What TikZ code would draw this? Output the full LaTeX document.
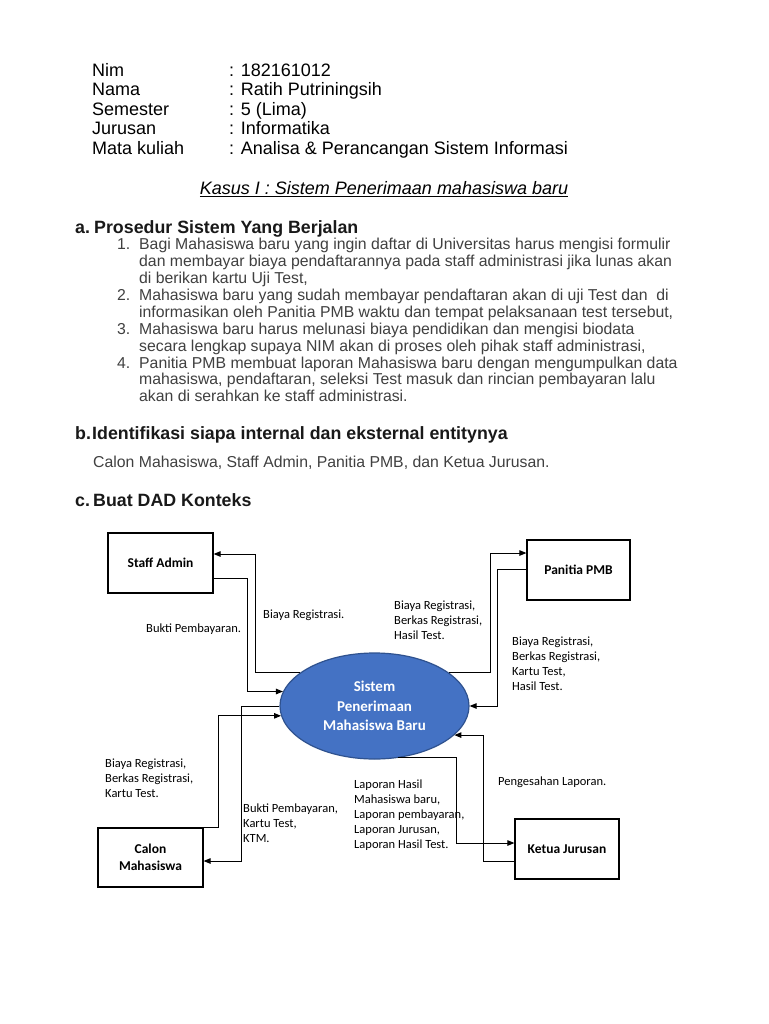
\documentclass[tikz,border=0pt]{standalone}
\usepackage{fontspec}
\setmainfont{Liberation Sans}
\newfontfamily\carlito{Carlito}
\usetikzlibrary{arrows.meta, shapes.geometric}
\definecolor{dadblue}{HTML}{4472C4}
\definecolor{dadedge}{HTML}{2F528F}
\definecolor{teks}{HTML}{404040}
\tikzset{
  entitas/.style={rectangle, draw=black, line width=1.2pt, fill=white, align=center,
                  font=\carlito\bfseries\fontsize{13.5}{17}\selectfont, inner sep=2pt},
  proses/.style={ellipse, draw=dadedge, line width=1.2pt, fill=dadblue, text=white,
                 align=center, minimum width=189pt, minimum height=106pt,
                 font=\carlito\bfseries\fontsize{15}{19.5}\selectfont},
  alur/.style={-{Triangle[length=7pt,width=5.5pt]}, line width=1pt},
  ket/.style={anchor=west, align=left, inner sep=0pt,
              font=\carlito\fontsize{12.5}{15}\selectfont},
  biodata/.style={anchor=base west, inner sep=0pt, font=\fontsize{18}{19.5}\selectfont},
  judul/.style={anchor=base west, inner sep=0pt, text=black!90,
                font=\bfseries\fontsize{17.8}{20}\selectfont},
  baris/.style={anchor=base west, inner sep=0pt, text=teks,
                font=\fontsize{15.8}{17}\selectfont}
}
\begin{document}
\begin{tikzpicture}[x=1pt, y=-1pt]
  \fill[white] (0,0) rectangle (768,1024);
  \useasboundingbox (0,0) rectangle (768,1024);

  % identitas
  \foreach \k/\v [count=\i from 0] in {Nim/182161012, Nama/Ratih Putriningsih,
      Semester/5 (Lima), Jurusan/Informatika,
      Mata kuliah/Analisa \& Perancangan Sistem Informasi} {
    \node[biodata] (k\i) at (92,76.4+\i*19.5) {\k};
    \node[biodata] (v\i) at (229,76.4+\i*19.5) {: \v};
  }
  \node[biodata, anchor=base] (kasus) at (384,194.4)
    {\itshape\underline{Kasus I : Sistem Penerimaan mahasiswa baru}};

  % a. prosedur
  \node[judul] (ha) at (75,233.5) {a.};
  \node[judul] (ta) at (94,233.5) {Prosedur Sistem Yang Berjalan};
  \foreach \n/\y in {1/249.7, 2/300.4, 3/334.2, 4/368}
    \node[baris] (n\n) at (117,\y) {\n.};
  \foreach \t [count=\i from 0] in {
      Bagi Mahasiswa baru yang ingin daftar di Universitas harus mengisi formulir,
      dan membayar biaya pendaftarannya pada staff administrasi jika lunas akan,
      di berikan kartu Uji Test{,},
      Mahasiswa baru yang sudah membayar pendaftaran akan di uji Test dan\ \ di,
      informasikan oleh Panitia PMB waktu dan tempat pelaksanaan test tersebut{,},
      Mahasiswa baru harus melunasi biaya pendidikan dan mengisi biodata,
      secara lengkap supaya NIM akan di proses oleh pihak staff administrasi{,},
      Panitia PMB membuat laporan Mahasiswa baru dengan mengumpulkan data,
      mahasiswa{,} pendaftaran{,} seleksi Test masuk dan rincian pembayaran lalu,
      akan di serahkan ke staff administrasi.}
    \node[baris] (l\i) at (139,249.7+\i*16.9) {\t};

  % b. entitas
  \node[judul] (hb) at (75,439.5) {b.};
  \node[judul] (tb) at (92,439.5) {Identifikasi siapa internal dan eksternal entitynya};
  \node[baris] (ent) at (93,467.7)
    {Calon Mahasiswa, Staff Admin, Panitia PMB, dan Ketua Jurusan.};

  % c. DAD konteks
  \node[judul] (hc) at (75,506.5) {c.};
  \node[judul] (tc) at (93,506.5) {Buat DAD Konteks};

  \node[entitas, minimum width=105pt, minimum height=60pt] (staff) at (160.5,563) {Staff Admin};
  \node[entitas, minimum width=103pt, minimum height=60pt] (panitia) at (578.5,570) {Panitia PMB};
  \node[entitas, minimum width=105pt, minimum height=59pt] (calon) at (150.5,857.5) {Calon\\Mahasiswa};
  \node[entitas, minimum width=104pt, minimum height=60pt] (ketua) at (567,849) {Ketua Jurusan};
  \node[proses] (sistem) at (374.5,706) {Sistem\\Penerimaan\\Mahasiswa Baru};

  \draw[alur] (sistem.156) -- ++(-44,0) |- ([yshift=9pt]staff.east);
  \draw[alur] ([yshift=-15pt]staff.east) -- ++(34,0) |- (sistem.171);
  \draw[alur] (sistem.24) -- ++(41,0) |- ([yshift=17pt]panitia.west);
  \draw[alur] ([yshift=1pt]panitia.west) -- ++(-29,0) |- (sistem.east);
  \draw[alur] (calon.north east) -- ++(15,0) |- (sistem.186);
  \draw[alur] (sistem.west) -- ++(-38,0) |- ([yshift=-3.5pt]calon.east);
  \draw[alur] (sistem.294) -- ++(59,0) |- ([yshift=6pt]ketua.west);
  \draw[alur] ([yshift=-12pt]ketua.west) -- ++(-31,0) |- (sistem.340);

  \node[ket] (kbiaya) at (263,615) {Biaya Registrasi.};
  \node[ket] (kbukti) at (146,629) {Bukti Pembayaran.};
  \node[ket] (kpanitia) at (394,620) {Biaya Registrasi,\\Berkas Registrasi,\\Hasil Test.};
  \node[ket] (kbalik) at (512,663.5) {Biaya Registrasi,\\Berkas Registrasi,\\Kartu Test,\\Hasil Test.};
  \node[ket] (kcalon) at (105,778) {Biaya Registrasi,\\Berkas Registrasi,\\Kartu Test.};
  \node[ket] (kktm) at (243,823) {Bukti Pembayaran,\\Kartu Test,\\KTM.};
  \node[ket] (klaporan) at (354,815) {Laporan Hasil\\Mahasiswa baru,\\Laporan pembayaran,\\Laporan Jurusan,\\Laporan Hasil Test.};
  \node[ket] (ksah) at (498,782) {Pengesahan Laporan.};
\end{tikzpicture}
\end{document}
